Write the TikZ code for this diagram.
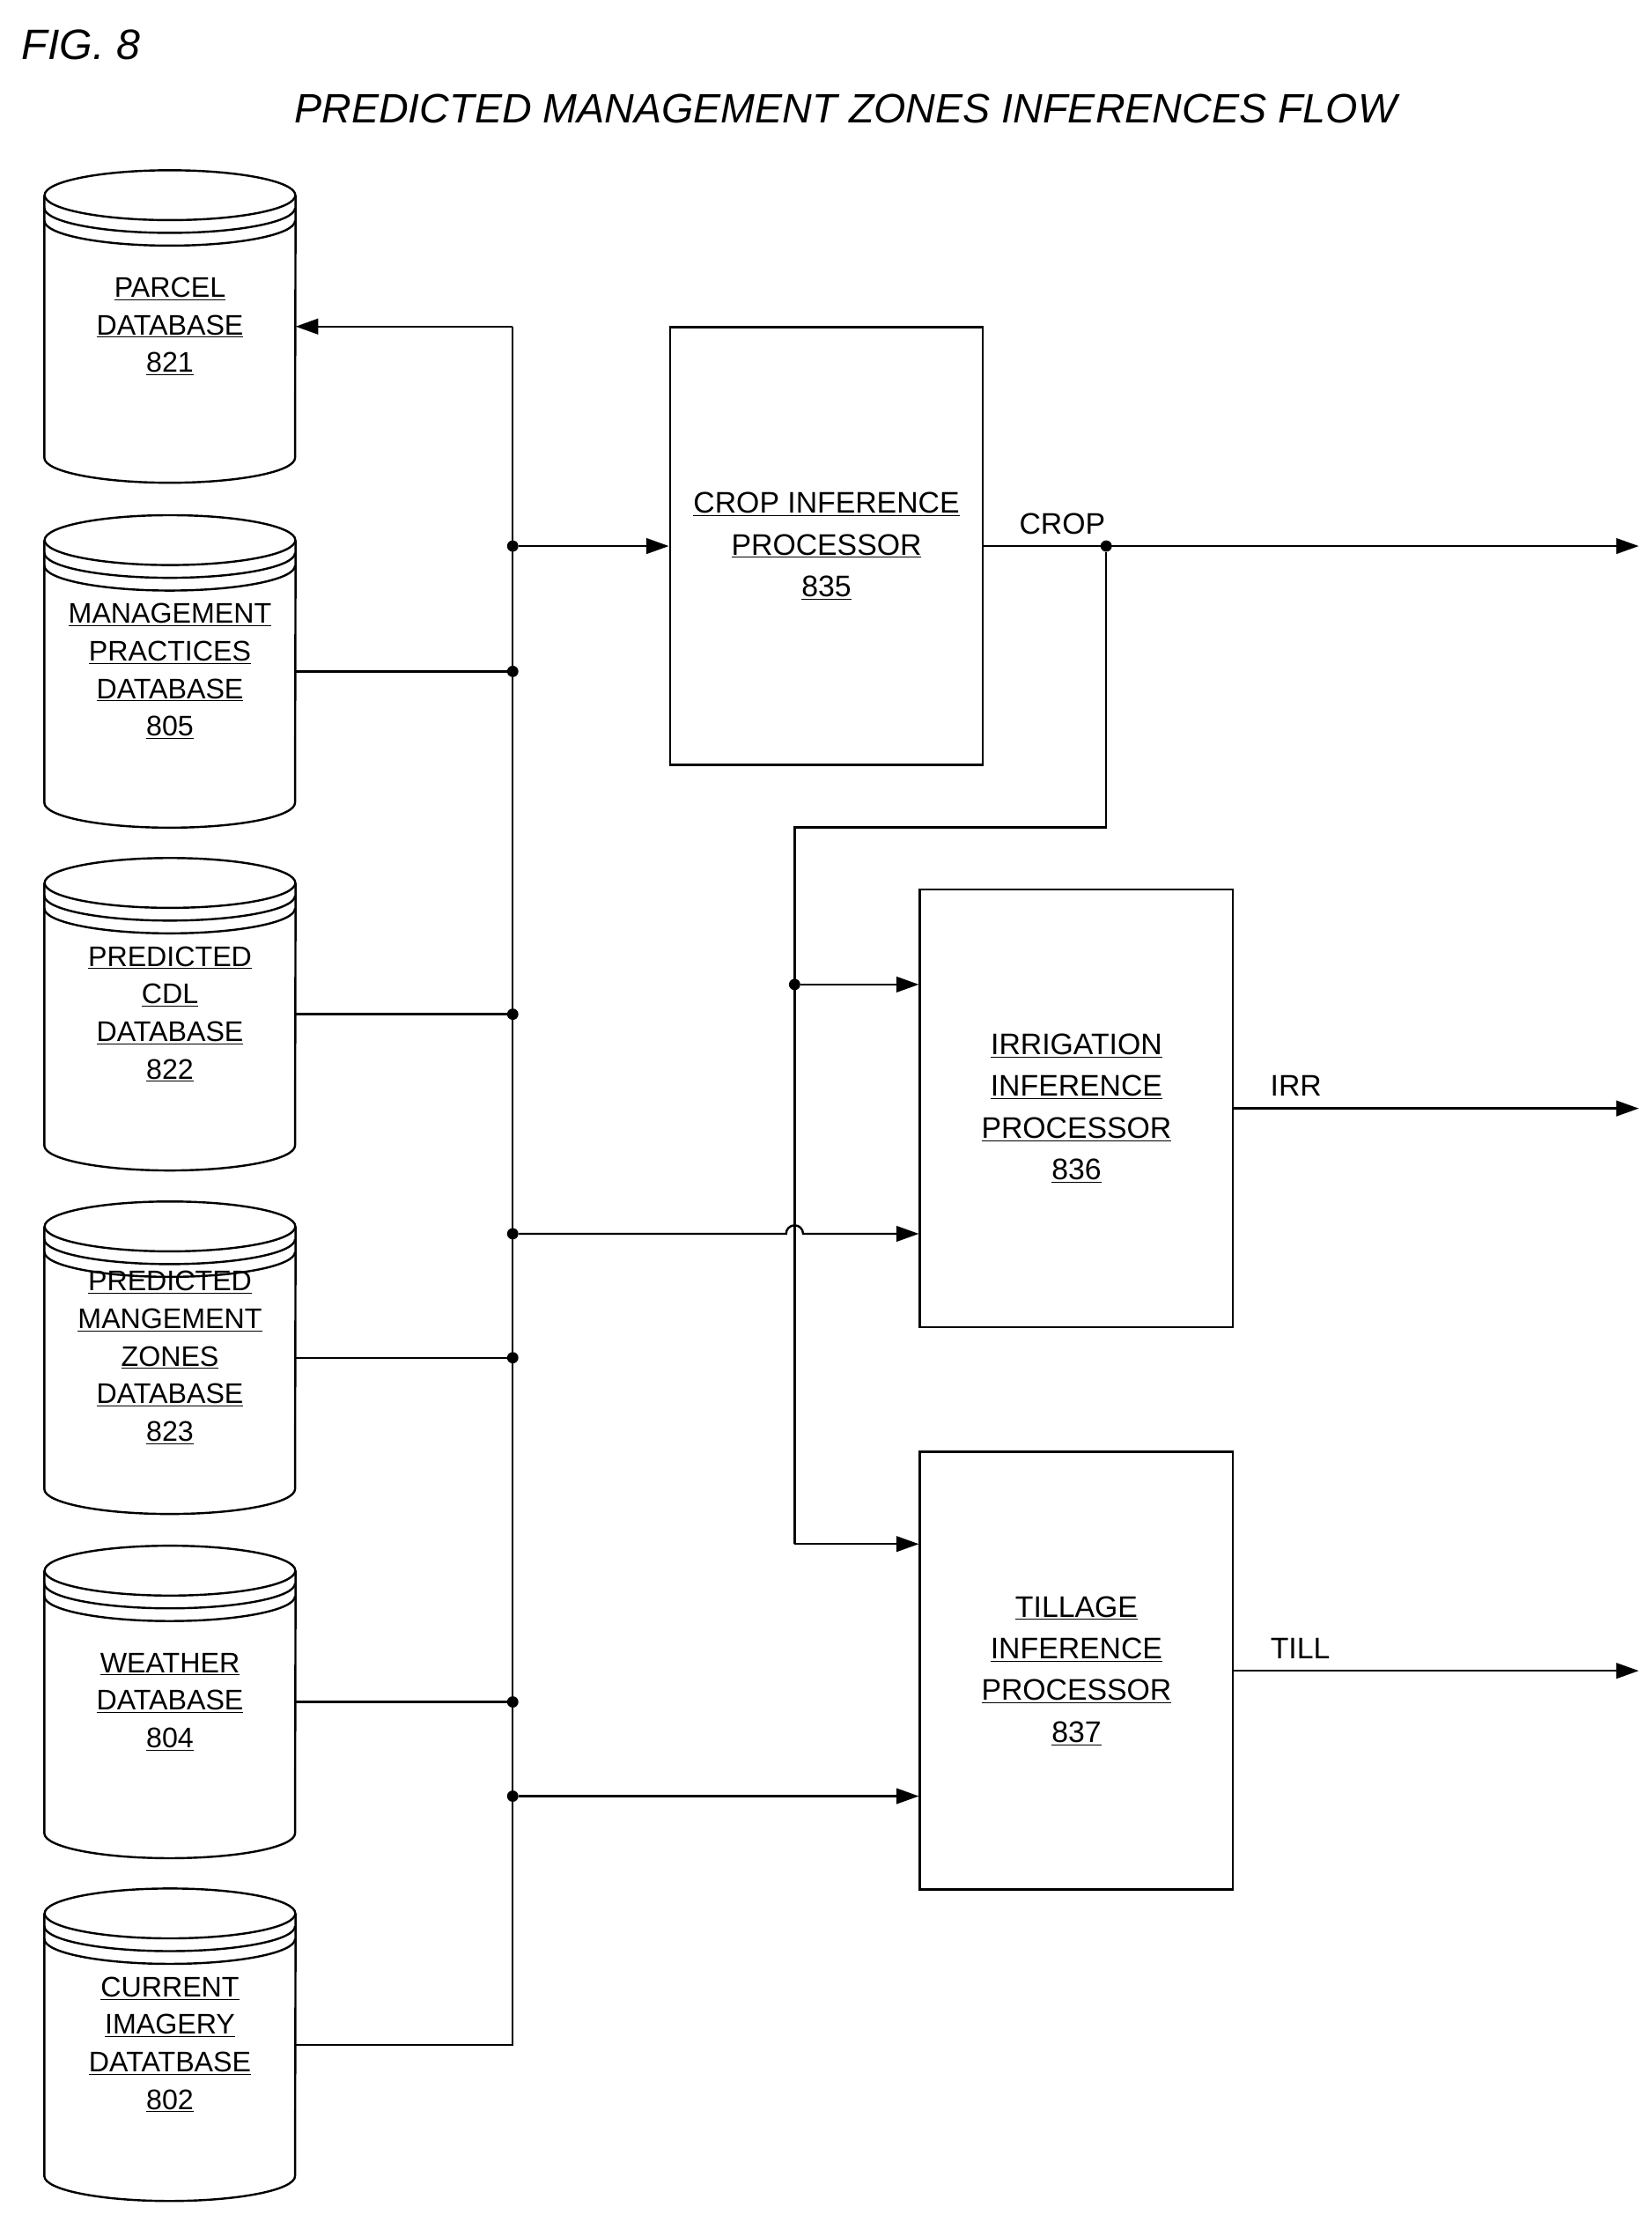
\documentclass[tikz,border=0pt]{standalone}
\usepackage{fontspec}
\setmainfont{Liberation Sans}
\usetikzlibrary{arrows.meta,positioning}
\tikzset{
  db/.style={minimum width=177pt, minimum height=185pt, inner sep=0pt, align=center, font=\fontsize{20}{26.5}\selectfont},
  proc/.style={draw, line width=1.5pt, minimum width=221pt, minimum height=309pt, inner sep=0pt, align=center, font=\fontsize{21}{29.5}\selectfont},
  wire/.style={line width=1.5pt},
  flow/.style={wire, -{Triangle[length=16pt,width=11pt]}},
  dot/.style={circle, fill, inner sep=0pt, minimum size=8pt},
  lbl/.style={font=\fontsize{21}{25}\selectfont, anchor=base}
}
\newcommand{\ul}[1]{\underline{#1}}
\begin{document}
\begin{tikzpicture}[x=1pt,y=-1pt]
\useasboundingbox (0,0) rectangle (1166,1563);
\node[anchor=base west, font=\fontsize{30}{34}\selectfont\itshape] (fig) at (12,42) {FIG. 8};
\node[anchor=base, font=\fontsize{29}{34}\selectfont\itshape] (title) at (597,87) {PREDICTED MANAGEMENT ZONES INFERENCES FLOW};

% databases
\node[db] (parcel) at (120,230.5) {\ul{PARCEL}\\\ul{DATABASE}\\\ul{821}};
\node[db] (mgmt) at (120,474) {\ul{MANAGEMENT}\\\ul{PRACTICES}\\\ul{DATABASE}\\\ul{805}};
\node[db] (cdl) at (120,716) {\ul{PREDICTED}\\\ul{CDL}\\\ul{DATABASE}\\\ul{822}};
\node[db] (zones) at (120,958.5) {\ul{PREDICTED}\\\ul{MANGEMENT}\\\ul{ZONES}\\\ul{DATABASE}\\\ul{823}};
\node[db] (weather) at (120,1201.5) {\ul{WEATHER}\\\ul{DATABASE}\\\ul{804}};
\node[db] (imagery) at (120,1443.5) {\ul{CURRENT}\\\ul{IMAGERY}\\\ul{DATATBASE}\\\ul{802}};
\foreach \n in {parcel,mgmt,cdl,zones,weather,imagery}{
  \draw[wire] (\n.north west) -- (\n.south west)
    arc[start angle=180, end angle=360, x radius=88.5pt, y radius=17.6pt]
    -- (\n.north east);
  \draw[wire] (\n.north) ellipse[x radius=88.5pt, y radius=17.6pt];
  \draw[wire] ([yshift=-9pt]\n.north west) arc[start angle=180, end angle=360, x radius=88.5pt, y radius=17.6pt];
  \draw[wire] ([yshift=-18pt]\n.north west) arc[start angle=180, end angle=360, x radius=88.5pt, y radius=17.6pt];
}

% processors
\node[proc] (crop) at (583.5,385.5) {\ul{CROP INFERENCE}\\\ul{PROCESSOR}\\\ul{835}};
\node[proc] (irr) at (760,782.5) {\ul{IRRIGATION}\\\ul{INFERENCE}\\\ul{PROCESSOR}\\\ul{836}};
\node[proc] (till) at (760,1179.5) {\ul{TILLAGE}\\\ul{INFERENCE}\\\ul{PROCESSOR}\\\ul{837}};

% bus
\coordinate (top) at (362,230.5);
\coordinate (bot) at (362,1443.5);
\node[dot] (b1) at (362,385.5) {};
\node[dot] (b2) at (362,474) {};
\node[dot] (b3) at (362,716) {};
\node[dot] (b4) at (362,871) {};
\node[dot] (b5) at (362,958.5) {};
\node[dot] (b6) at (362,1201.5) {};
\node[dot] (b7) at (362,1268) {};
\draw[wire] (top) -- (bot) -- (imagery.east);
\draw[flow] (top) -- (parcel.east);
\draw[wire] (mgmt.east) -- (b2);
\draw[wire] (cdl.east) -- (b3);
\draw[wire] (zones.east) -- (b5);
\draw[wire] (weather.east) -- (b6);
\draw[flow] (b1) -- (crop.west);
\draw[flow] (b7) -- (till.west |- b7);

% crop output and feed
\node[dot] (c1) at (781,385.5) {};
\coordinate (c2) at (781,584);
\coordinate (c3) at (561,584);
\node[dot] (c4) at (561,695) {};
\coordinate (c5) at (561,1090);
\coordinate (cropout) at (1157,385.5);
\draw[flow] (crop.east) -- (cropout);
\node[lbl] (croplbl) at (750,377) {CROP};
\draw[wire] (c1) -- (c2) -- (c3) -- (c5);
\draw[flow] (c5) -- (till.west |- c5);
\draw[flow] (c4) -- (irr.west |- c4);
\draw[flow] (b4) -- ([xshift=-6pt]c3 |- b4) arc[start angle=180, end angle=0, radius=6pt] -- (irr.west |- b4);

% outputs
\coordinate (irrout) at (1157,782.5);
\coordinate (tillout) at (1157,1179.5);
\draw[flow] (irr.east) -- (irrout);
\draw[flow] (till.east) -- (tillout);
\node[lbl] (irrlbl) at (915,774) {IRR};
\node[lbl] (tilllbl) at (918,1171) {TILL};
\end{tikzpicture}
\end{document}
